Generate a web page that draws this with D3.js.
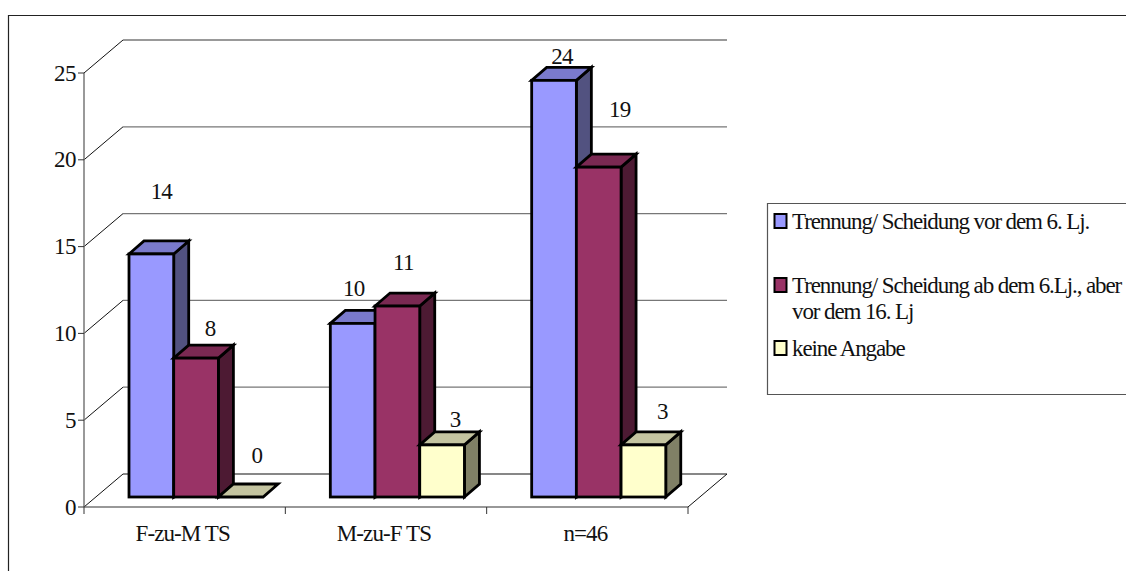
<!DOCTYPE html>
<html>
<head>
<meta charset="utf-8">
<script src="https://cdn.jsdelivr.net/npm/d3@7/dist/d3.min.js"></script>
<style>
html,body{margin:0;padding:0;background:#fff;}
svg{display:block;}
text{font-family:"Liberation Serif",serif;fill:#111;}
</style>
</head>
<body>
<div id="chart"></div>
<script>
const categories = ["F-zu-M TS", "M-zu-F TS", "n=46"];
const seriesNames = ["Trennung/ Scheidung vor dem 6. Lj.", "Trennung/ Scheidung ab dem 6.Lj., aber", "keine Angabe"];
const series1 = [14, 10, 24];
const series2 = [8, 11, 19];
const series3 = [0, 3, 3];
const yTicks = [0, 5, 10, 15, 20, 25];

const W = 1126, H = 571;
const svg = d3.select("#chart").append("svg").attr("width", W).attr("height", H);

// Oblique projection of the chart box
const plot = {left: 84, right: 688, front0: 507, front25: 73, depthX: 39, depthY: -33};
const x = d3.scaleBand().domain(categories).range([plot.left, plot.right]);
const yFront = d3.scaleLinear().domain([0, 25]).range([plot.front0, plot.front25]);
const yBars = d3.scaleLinear().domain([0, 25]).range([497, 63]);
const fills = [
  {front: "#9999ff", top: "#7a7acc", side: "#525280"},
  {front: "#993366", top: "#7a2952", side: "#4d1a33"},
  {front: "#ffffcc", top: "#c4c4a0", side: "#808066"}
];
const barW = 44.7, barDX = 15, barDY = -13, groupInset = 45;

// Back wall gridlines with their diagonal returns to the axis
const grid = svg.append("g");
yTicks.forEach(t => {
  const yf = yFront(t), yb = yf + plot.depthY, xb = plot.left + plot.depthX;
  grid.append("line").attr("x1", plot.left).attr("y1", yf).attr("x2", xb).attr("y2", yb)
    .attr("stroke", "#111").attr("stroke-width", 1);
  grid.append("line").attr("x1", xb).attr("y1", yb).attr("x2", plot.right + plot.depthX).attr("y2", yb)
    .attr("stroke", t === 0 ? "#111" : "#777").attr("stroke-width", t === 0 ? 1.2 : 1.3);
});
// Right-hand floor edge
grid.append("line").attr("x1", plot.right).attr("y1", plot.front0)
  .attr("x2", plot.right + plot.depthX).attr("y2", plot.front0 + plot.depthY)
  .attr("stroke", "#111");

// Axes
const axisG = svg.append("g");
axisG.append("line").attr("x1", plot.left).attr("x2", plot.left)
  .attr("y1", yFront(25)).attr("y2", plot.front0 + 7).attr("stroke", "#777").attr("stroke-width", 1.5);
axisG.append("line").attr("x1", plot.left).attr("x2", plot.right)
  .attr("y1", plot.front0).attr("y2", plot.front0).attr("stroke", "#333").attr("stroke-width", 1.2);
yTicks.forEach(t => {
  axisG.append("line").attr("x1", plot.left - 6).attr("x2", plot.left)
    .attr("y1", yFront(t)).attr("y2", yFront(t)).attr("stroke", "#333");
  axisG.append("text").attr("x", plot.left - 8).attr("y", yFront(t) + 7.5)
    .attr("text-anchor", "end").attr("font-size", 23).attr("letter-spacing", -0.5).text(t);
});
categories.forEach((c, i) => {
  const tickX = x(c) + x.bandwidth();
  axisG.append("line").attr("x1", tickX).attr("x2", tickX)
    .attr("y1", plot.front0).attr("y2", plot.front0 + 7).attr("stroke", "#333");
  axisG.append("text").attr("x", x(c) + x.bandwidth() / 2 - 2).attr("y", 541)
    .attr("text-anchor", "middle").attr("font-size", 23).attr("letter-spacing", -0.9).text(c);
});

// Bars, drawn left to right so each one overlaps its neighbour's side face
const bars = svg.append("g").attr("stroke", "#000").attr("stroke-width", 2.8).attr("stroke-linejoin", "miter");
[series1, series2, series3].forEach((vals, s) => {
  vals.forEach((v, i) => {
    const x0 = x(categories[i]) + groupInset + s * barW, x1 = x0 + barW;
    const y0 = yBars(0), yt = yBars(v);
    const g = bars.append("g").attr("data-series", s);
    if (v > 0) {
      g.append("polygon").attr("fill", fills[s].side)
        .attr("points", [[x1, yt], [x1 + barDX, yt + barDY], [x1 + barDX, y0 + barDY], [x1, y0]].join(" "));
    }
    g.append("polygon").attr("fill", fills[s].top)
      .attr("points", [[x0, yt], [x0 + barDX, yt + barDY], [x1 + barDX, yt + barDY], [x1, yt]].join(" "));
    if (v > 0) {
      g.append("rect").attr("x", x0).attr("y", yt).attr("width", barW).attr("height", y0 - yt)
        .attr("fill", fills[s].front);
    }
  });
});

// Value labels were placed by hand above each bar
const labelShift = [
  [[-5, -55], [-1, -22], [1, -34]],
  [[-14, -27], [-9, -36], [-2, -18]],
  [[-7, -16], [6, -50], [4, -26]]
];
const labels = svg.append("g");
[series1, series2, series3].forEach((vals, s) => {
  vals.forEach((v, i) => {
    const cx = x(categories[i]) + groupInset + s * barW + barW / 2 + barDX;
    labels.append("text").attr("x", cx + labelShift[i][s][0]).attr("y", yBars(v) + labelShift[i][s][1])
      .attr("text-anchor", "middle").attr("font-size", 23).attr("letter-spacing", -0.8).text(v);
  });
});

// Chart frame, open on the right and at the bottom
svg.append("path").attr("d", `M8.5,${H} V15.5 H${W}`).attr("fill", "none").attr("stroke", "#222").attr("stroke-width", 1.2);

// Legend
const legend = svg.append("g");
legend.append("path").attr("d", `M${W},203.5 H767.5 V394.5 H${W}`).attr("fill", "#fff").attr("stroke", "#555").attr("stroke-width", 1.2);
const legendRows = [
  {s: 0, sw: 221, lines: [[seriesNames[0], 229]]},
  {s: 1, sw: 285, lines: [[seriesNames[1], 293], ["vor dem 16. Lj", 319]]},
  {s: 2, sw: 348, lines: [[seriesNames[2], 356]]}
];
legendRows.forEach(r => {
  legend.append("rect").attr("x", 774.5).attr("y", r.sw - 7).attr("width", 12).attr("height", 14)
    .attr("fill", fills[r.s].front).attr("stroke", "#000").attr("stroke-width", 2);
  r.lines.forEach(([t, yy]) => {
    legend.append("text").attr("x", 792).attr("y", yy).attr("font-size", 23).attr("letter-spacing", -1.1).text(t);
  });
});
</script>
</body>
</html>
